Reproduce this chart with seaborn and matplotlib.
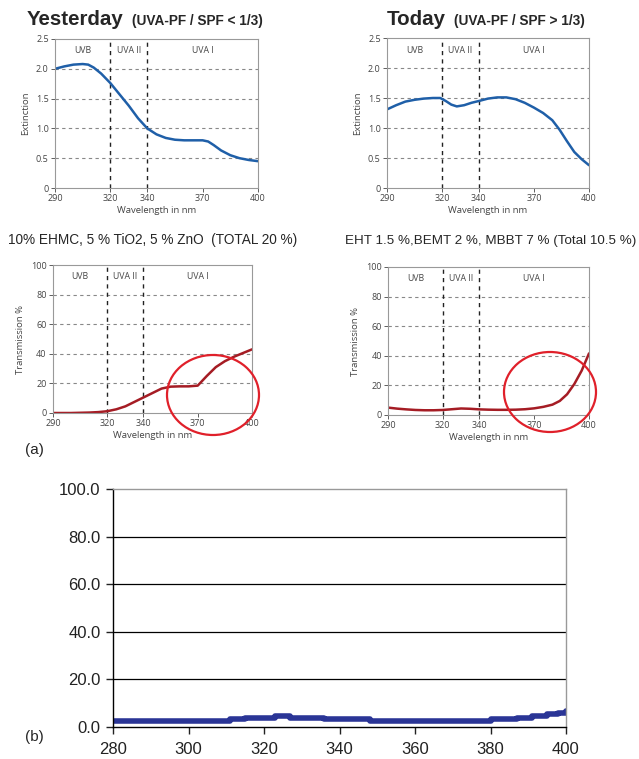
import matplotlib
matplotlib.use("Agg")
import matplotlib.pyplot as plt
from matplotlib.patches import Ellipse
import pandas as pd
import seaborn as sns

# extinction, "yesterday" formulation
ext_old_nm = [290, 295, 300, 305, 308, 311, 315, 320, 325, 330, 335, 340, 345, 350,
              355, 360, 365, 370, 373, 376, 380, 385, 390, 395, 400]
ext_old = [2.00, 2.04, 2.07, 2.08, 2.07, 2.02, 1.92, 1.76, 1.57, 1.38, 1.17, 1.00, 0.90,
           0.84, 0.81, 0.80, 0.80, 0.80, 0.78, 0.72, 0.63, 0.55, 0.50, 0.47, 0.45]

# extinction, "today" formulation
ext_new_nm = [290, 295, 300, 305, 310, 315, 319, 322, 325, 328, 332, 336, 340, 345, 350,
              355, 360, 365, 370, 375, 380, 384, 388, 392, 396, 400]
ext_new = [1.31, 1.38, 1.44, 1.47, 1.49, 1.50, 1.50, 1.45, 1.39, 1.36, 1.38, 1.42, 1.45,
           1.49, 1.51, 1.51, 1.48, 1.42, 1.34, 1.25, 1.13, 0.97, 0.78, 0.60, 0.48, 0.38]

# transmission %
tr_old_nm = [290, 300, 310, 315, 320, 325, 330, 335, 340, 345, 350, 355, 360, 365, 370,
             375, 380, 385, 390, 395, 400]
tr_old = [0, 0, 0.3, 0.6, 1.2, 2.5, 4.5, 7.5, 10.5, 13.5, 16.5, 17.8, 18, 18, 18.5,
          25, 31, 35, 38, 40.5, 43]

tr_new_nm = [290, 295, 300, 305, 310, 315, 320, 325, 330, 335, 340, 345, 350, 355, 360,
             365, 370, 375, 380, 384, 388, 392, 396, 400]
tr_new = [5, 4.3, 3.8, 3.4, 3.2, 3.2, 3.4, 3.9, 4.4, 4.2, 3.8, 3.6, 3.5, 3.5, 3.6,
          3.9, 4.5, 5.5, 7, 9.5, 14, 21, 30, 41.6]

# panel (b), measured transmission
b_nm = [280, 311, 315, 323, 327, 336, 348, 380, 387, 391, 395, 398, 400]
b_val = [2.6, 3.2, 3.9, 4.5, 3.9, 3.3, 2.6, 3.2, 3.9, 4.6, 5.3, 6.0, 6.6]

spec_ticks = [290, 320, 340, 370, 400]
bands = ["UVB", "UVA II", "UVA I"]
band_x = [305, 330, 370]

sns.set_style("white")
plt.rcParams['font.family'] = ['Liberation Sans', 'DejaVu Sans']

W, H = 639, 759
fig = plt.figure(figsize=(W / 100, H / 100), dpi=100)


def box(x0, top, x1, bottom):
    return [x0 / W, 1 - bottom / H, (x1 - x0) / W, (bottom - top) / H]


def spectrum(rect, nm, vals, color, ymax, yticks, ylabel):
    ax = fig.add_axes(rect)
    df = pd.DataFrame({"nm": nm, "v": vals})
    sns.lineplot(data=df, x="nm", y="v", color=color, lw=1.8, ax=ax)
    ax.set_xlim(290, 400)
    ax.set_ylim(0, ymax)
    ax.set_xticks(spec_ticks)
    ax.set_yticks(yticks[0])
    ax.set_yticklabels(yticks[1])
    for y in yticks[0][1:-1]:
        ax.axhline(y, color="#888888", ls=(0, (3, 3)), lw=0.8, zorder=0)
    for x in (320, 340):
        ax.axvline(x, color="#222222", ls=(0, (3, 3)), lw=1.0, zorder=0)
    for lab, bx in zip(bands, band_x):
        ax.text(bx, ymax * 0.92, lab, ha="center", va="center", fontsize=6.3,
                color="#444444", family="Open Sans")
    for s in ax.spines.values():
        s.set_color("#999999")
        s.set_linewidth(0.8)
    ax.tick_params(labelsize=6.5, colors="#444444", length=3, width=0.6, direction="out",
                   left=True, bottom=True, pad=1.5)
    for t in ax.get_xticklabels() + ax.get_yticklabels():
        t.set_family("Open Sans")
    ax.set_xlabel("Wavelength in nm", fontsize=6.8, color="#444444", family="Open Sans",
                  labelpad=2)
    ax.set_ylabel(ylabel, fontsize=6.8, color="#444444", family="Open Sans", labelpad=4)
    return ax


ext_ticks = ([0, 0.5, 1.0, 1.5, 2.0, 2.5], ["0", "0.5", "1.0", "1.5", "2.0", "2.5"])
tr_ticks = ([0, 20, 40, 60, 80, 100], ["0", "20", "40", "60", "80", "100"])
blue = "#1f5fa8"
red = "#a51c24"

spectrum(box(55, 39, 258, 188), ext_old_nm, ext_old, blue, 2.5, ext_ticks, "Extinction")
spectrum(box(387, 38, 589, 188), ext_new_nm, ext_new, blue, 2.5, ext_ticks, "Extinction")
spectrum(box(53, 265, 252, 413), tr_old_nm, tr_old, red, 100, tr_ticks, "Transmission %")
spectrum(box(388, 267, 589, 415), tr_new_nm, tr_new, red, 100, tr_ticks, "Transmission %")

# red highlight circles
for cx, cy in ((213, 395), (550, 392)):
    fig.patches.append(Ellipse((cx / W, 1 - cy / H), 92 / W, 80 / H, fill=False,
                               ec="#e0202a", lw=1.6, transform=fig.transFigure,
                               figure=fig))

# titles
fig.text(27 / W, 1 - 25 / H, "Yesterday", fontsize=14.8, fontweight="bold", va="baseline")
fig.text(132 / W, 1 - 25 / H, "(UVA-PF / SPF < 1/3)", fontsize=9.8, fontweight="bold",
         va="baseline")
fig.text(387 / W, 1 - 25 / H, "Today", fontsize=14.8, fontweight="bold", va="baseline")
fig.text(454 / W, 1 - 25 / H, "(UVA-PF / SPF > 1/3)", fontsize=9.8, fontweight="bold",
         va="baseline")
fig.text(8 / W, 1 - 244 / H, "10% EHMC, 5 % TiO2, 5 % ZnO  (TOTAL 20 %)", fontsize=9.8,
         va="baseline")
fig.text(345 / W, 1 - 244 / H, "EHT 1.5 %,BEMT 2 %, MBBT 7 % (Total 10.5 %)", fontsize=9.6,
         va="baseline")
fig.text(25 / W, 1 - 450 / H, "(a)", fontsize=11, va="center")
fig.text(25 / W, 1 - 737 / H, "(b)", fontsize=11, va="center")

# panel (b)
axb = fig.add_axes(box(113, 489, 566, 727))
dfb = pd.DataFrame({"nm": b_nm, "v": b_val})
sns.lineplot(data=dfb, x="nm", y="v", color="#2a3596", lw=4, drawstyle="steps-post", ax=axb)
axb.set_xlim(280, 400)
axb.set_ylim(0, 100)
axb.set_xticks(range(280, 401, 20))
axb.set_yticks(range(0, 101, 20))
axb.set_yticklabels([f"{v:.1f}" for v in range(0, 101, 20)])
for y in (20, 40, 60, 80):
    axb.axhline(y, color="black", lw=0.9, zorder=0)
axb.spines["left"].set_color("black")
axb.spines["bottom"].set_color("black")
axb.spines["top"].set_color("#999999")
axb.spines["right"].set_color("#999999")
for s in axb.spines.values():
    s.set_linewidth(1.0)
axb.tick_params(labelsize=12, colors="#222222", length=5, width=1, direction="out",
                left=True, bottom=True, pad=4)
axb.tick_params(axis="x", pad=6)
axb.set_xlabel("")
axb.set_ylabel("")

fig.savefig("out.png", dpi=100)
